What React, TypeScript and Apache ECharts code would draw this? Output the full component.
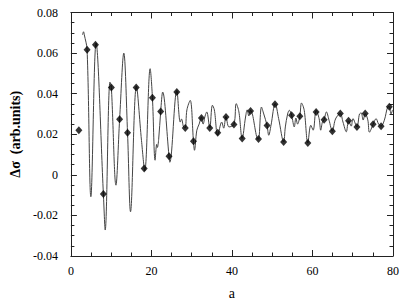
import React, { useEffect, useRef } from "react";
import * as echarts from "echarts";

// Marker samples: [a, Δσ]
const markerA = [1.98, 4.02, 6.1, 8.07, 10.05, 12.1, 14.07, 16.22, 18.2, 20.25, 22.3, 24.37, 26.3, 28.4, 30.44, 32.42, 34.49, 36.47, 38.52, 40.49, 42.54, 44.62, 46.59, 48.72, 50.69, 52.84, 54.81, 56.86, 58.84, 60.91, 62.89, 64.94, 66.91, 68.96, 71.04, 73.09, 75.06, 77.04, 79.09];
const markerV = [0.022, 0.0617, 0.0641, -0.0095, 0.043, 0.0274, 0.0207, 0.0431, 0.0031, 0.038, 0.0312, 0.0092, 0.0408, 0.0231, 0.0166, 0.028, 0.0231, 0.0207, 0.0285, 0.0248, 0.0179, 0.0315, 0.0176, 0.0243, 0.0348, 0.0162, 0.0294, 0.0289, 0.0157, 0.031, 0.0272, 0.0215, 0.0302, 0.0266, 0.0236, 0.0302, 0.0249, 0.024, 0.0336];

// Continuous curve: [a, Δσ]
const curveA = [2.89, 3.14, 3.33, 4.02, 4.96, 6.25, 8.07, 8.52, 9.7, 10.05, 11.19, 12.1, 13.14, 14.07, 14.81, 16.27, 17.53, 18.35, 19.68, 20.25, 20.91, 21.31, 21.48, 21.8, 22.3, 22.79, 24.37, 24.57, 26.3, 27.16, 27.48, 27.98, 28.4, 28.81, 29.63, 30.44, 30.69, 31.28, 31.85, 32.42, 32.84, 33.33, 33.75, 34.49, 35.14, 35.63, 36.47, 37.46, 37.95, 38.52, 39.26, 40.49, 41.06, 41.73, 42.54, 43.38, 43.78, 44.2, 44.62, 46.25, 46.59, 47.33, 47.9, 48.72, 49.14, 49.7, 50.74, 51.6, 52.84, 53.26, 53.83, 54.25, 54.81, 55.48, 55.88, 56.3, 56.86, 57.28, 57.95, 58.84, 59.58, 60.17, 60.91, 61.65, 62.05, 62.47, 62.89, 63.46, 64.12, 64.94, 65.6, 66.17, 66.91, 67.58, 68.4, 68.96, 69.63, 70.05, 71.04, 71.68, 72.1, 72.59, 73.09, 73.75, 74.15, 75.06, 75.8, 76.42, 77.04, 77.85, 78.69, 79.09, 79.51, 79.88];
const curveV = [0.069, 0.0705, 0.069, 0.0617, -0.0108, 0.065, -0.0095, -0.0272, 0.0457, 0.043, -0.0051, 0.0274, 0.06, 0.0207, -0.0182, 0.0437, 0.017, 0.002, 0.0523, 0.038, 0.0072, 0.015, 0.0135, 0.0175, 0.0312, 0.0408, 0.0092, 0.0062, 0.0415, 0.026, 0.0275, 0.0236, 0.0231, 0.032, 0.0367, 0.0166, 0.0121, 0.022, 0.025, 0.0285, 0.025, 0.029, 0.031, 0.0231, 0.0343, 0.032, 0.0195, 0.026, 0.023, 0.0288, 0.0236, 0.0248, 0.0351, 0.031, 0.0179, 0.0285, 0.032, 0.029, 0.0318, 0.0179, 0.0176, 0.0334, 0.03, 0.0243, 0.0195, 0.0244, 0.0352, 0.0277, 0.0162, 0.0236, 0.03, 0.0318, 0.0294, 0.0236, 0.028, 0.025, 0.0289, 0.0354, 0.0318, 0.0157, 0.0244, 0.022, 0.0318, 0.0277, 0.022, 0.026, 0.0272, 0.031, 0.0269, 0.0215, 0.0269, 0.029, 0.0302, 0.026, 0.0212, 0.0266, 0.024, 0.0277, 0.0236, 0.03, 0.0305, 0.027, 0.0302, 0.027, 0.021, 0.0249, 0.0277, 0.025, 0.024, 0.0269, 0.0334, 0.0336, 0.03, 0.032];

const xTicks = { min: 0, max: 80, interval: 20 };
const yTicks = { min: -0.04, max: 0.08, interval: 0.02 };

const FONT = "Times New Roman, Liberation Serif, DejaVu Serif, serif";
const AXIS_COLOR = "#222";

export default function App() {
  const ref = useRef<HTMLDivElement>(null);
  useEffect(() => {
    if (!ref.current) return;
    const chart = echarts.init(ref.current, undefined, { renderer: "svg" });
    const baseX = {
      type: "value" as const,
      min: xTicks.min,
      max: xTicks.max,
      interval: xTicks.interval,
      axisLine: { show: true, onZero: false, lineStyle: { color: AXIS_COLOR, width: 1 } },
      axisTick: { show: true, inside: true, length: 6, lineStyle: { color: AXIS_COLOR } },
      minorTick: { show: true, splitNumber: 4, length: 3.5, lineStyle: { color: AXIS_COLOR } },
      splitLine: { show: false },
    };
    const baseY = {
      type: "value" as const,
      min: yTicks.min,
      max: yTicks.max,
      interval: yTicks.interval,
      axisLine: { show: true, onZero: false, lineStyle: { color: AXIS_COLOR, width: 1 } },
      axisTick: { show: true, inside: true, length: 6, lineStyle: { color: AXIS_COLOR } },
      minorTick: { show: true, splitNumber: 4, length: 3.5, lineStyle: { color: AXIS_COLOR } },
      splitLine: { show: false },
    };
    chart.setOption({
      animation: false,
      backgroundColor: "#fff",
      textStyle: { fontFamily: FONT },
      grid: { left: 69, right: 11, top: 12.5, bottom: 51, containLabel: false },
      xAxis: [
        {
          ...baseX,
          position: "bottom",
          name: "a",
          nameLocation: "middle",
          nameGap: 30,
          nameTextStyle: { fontFamily: FONT, fontSize: 14, color: "#000" },
          axisLabel: { fontFamily: FONT, fontSize: 12, color: "#000", margin: 9 },
        },
        { ...baseX, position: "top", axisLabel: { show: false } },
      ],
      yAxis: [
        {
          ...baseY,
          position: "left",
          name: "Δσ  (arb.units)",
          nameLocation: "middle",
          nameGap: 47,
          nameTextStyle: { fontFamily: FONT, fontSize: 14, fontWeight: "bold", color: "#000" },
          axisLabel: {
            fontFamily: FONT,
            fontSize: 12,
            color: "#000",
            margin: 13,
            formatter: (v: number) => (Math.abs(v) < 1e-9 ? "0" : v.toFixed(2)),
          },
        },
        { ...baseY, position: "right", axisLabel: { show: false } },
      ],
      series: [
        {
          type: "line",
          data: curveA.map((a, i) => [a, curveV[i]]),
          showSymbol: false,
          smooth: 0.35,
          lineStyle: { color: "#444", width: 1 },
          z: 2,
        },
        {
          type: "scatter",
          data: markerA.map((a, i) => [a, markerV[i]]),
          symbol: "diamond",
          symbolSize: [7, 8],
          itemStyle: { color: "#000" },
          z: 3,
        },
      ],
    });
    return () => chart.dispose();
  }, []);
  return (
    <div
      ref={ref}
      style={{ position: "fixed", left: 0, top: 0, width: 404, height: 307, background: "#fff" }}
    />
  );
}
